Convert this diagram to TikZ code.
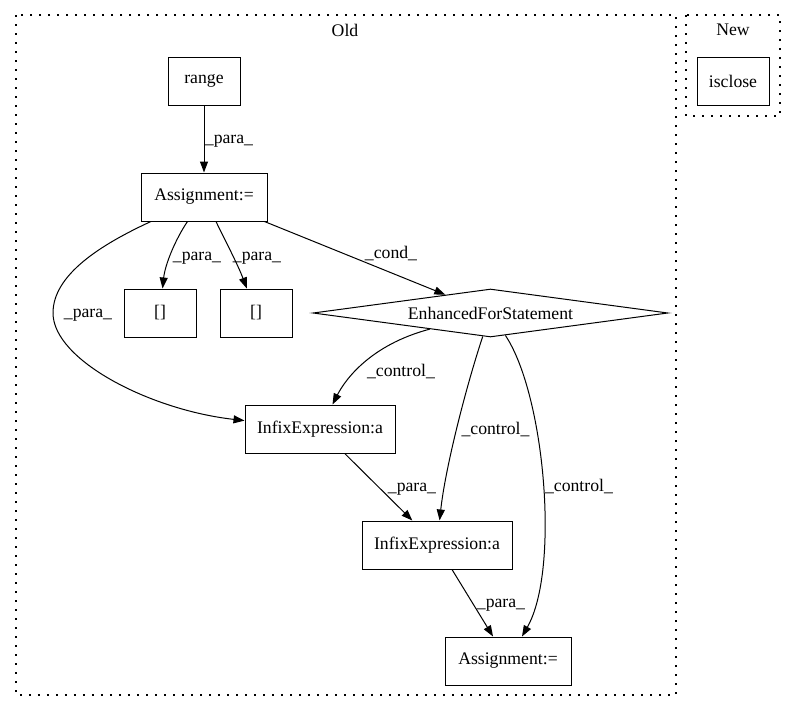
\documentclass[tikz,border=0pt]{standalone}
\usepackage{fontspec}
\setmainfont{Liberation Serif}
\usetikzlibrary{arrows.meta,shapes.geometric}
\begin{document}
\begin{tikzpicture}[x=1pt,y=-1pt,
  every node/.style={font=\fontsize{17.7}{21}\selectfont, inner sep=0pt},
  box/.style={draw, line width=1pt, minimum width=#1, minimum height=48pt},
  box/.default=72pt,
  cluster/.style={draw, line width=1.3pt, dash pattern=on 1.6pt off 7.4pt},
  edge/.style={draw, line width=1pt, -{Triangle[length=11pt,width=8pt]}},
  lbl/.style={text height=12pt, text depth=4pt}]
\useasboundingbox (0,0) rectangle (796,712);
% clusters
\draw[cluster] (16,15) rectangle (676,695);
\draw[cluster] (686,15) rectangle (780,116);
\node (oldlbl) at (345,30) {Old};
\node (newlbl) at (733,30) {New};
% nodes
\node[box] (range) at (204,81) {range};
\node[box=126pt] (assign1) at (204,197) {Assignment:=};
\node[box] (b1) at (160,313) {[]};
\node[box] (b2) at (256,313) {[]};
\node[draw, line width=1pt, diamond, aspect=7.4, minimum width=355pt, minimum height=48pt] (efs) at (490.5,313) {EnhancedForStatement};
\node[box=150pt] (infix1) at (320,429) {InfixExpression:a};
\node[box=150pt] (infix2) at (437,545) {InfixExpression:a};
\node[box=126pt] (assign2) at (508,661) {Assignment:=};
\node[box] (isclose) at (733,81) {isclose};
\coordinate (w1) at (53,313);
% edges
\draw[edge] (range) -- (assign1);
\draw[edge] (assign1) .. controls (175,240) and (165,265) .. (b1);
\draw[edge] (assign1) .. controls (225,240) and (238,265) .. (b2);
\draw[edge] (assign1) -- (efs);
\draw[line width=1pt] (assign1) .. controls (100,245) and (53,275) .. (w1);
\draw[edge] (w1) .. controls (53,360) and (150,410) .. (infix1);
\draw[edge] (efs) .. controls (370,345) and (345,380) .. (infix1);
\draw[edge] (efs) .. controls (465,390) and (445,470) .. (infix2);
\draw[edge] (efs) .. controls (545,395) and (560,570) .. (assign2);
\draw[edge] (infix1) -- (infix2);
\draw[edge] (infix2) -- (assign2);
% labels
\node[lbl] (l1) at (229,139) {\_para\_};
\node[lbl] (l2) at (197,256) {\_para\_};
\node[lbl] (l3) at (257,256) {\_para\_};
\node[lbl] (l4) at (391,254) {\_cond\_};
\node[lbl] (l5) at (88,313) {\_para\_};
\node[lbl] (l6) at (401,372) {\_control\_};
\node[lbl] (l7) at (495.5,430) {\_control\_};
\node[lbl] (l8) at (579,487) {\_control\_};
\node[lbl] (l9) at (412,487) {\_para\_};
\node[lbl] (l10) at (501,603) {\_para\_};
\end{tikzpicture}
\end{document}
